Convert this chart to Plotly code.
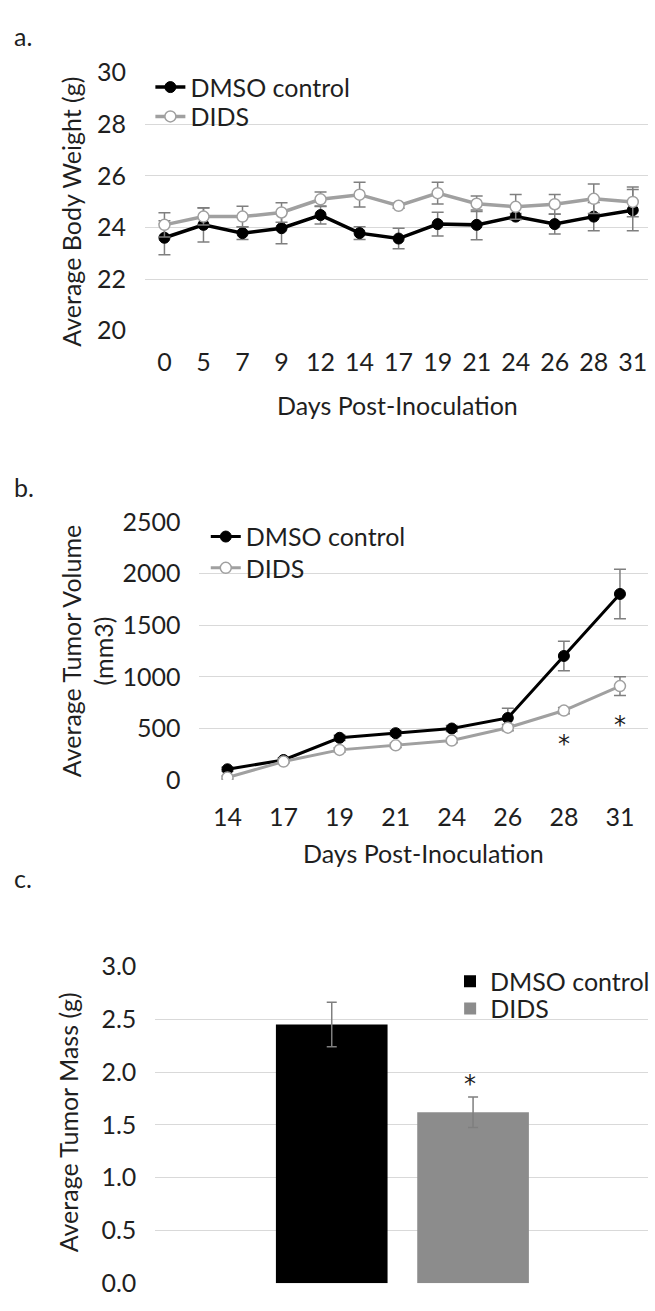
import plotly.graph_objects as go

W, H = 655, 1311

# ---------------- data ----------------
days_a = ["0", "5", "7", "9", "12", "14", "17", "19", "21", "24", "26", "28", "31"]
dmso_a = [23.6, 24.1, 23.78, 23.97, 24.48, 23.78, 23.57, 24.13, 24.1, 24.42, 24.13, 24.42, 24.67]
dmso_a_err = [0.66, 0.66, 0.25, 0.6, 0.35, 0.25, 0.4, 0.46, 0.58, 0.12, 0.38, 0.55, 0.8]
dids_a = [24.1, 24.42, 24.42, 24.58, 25.09, 25.27, 24.84, 25.33, 24.92, 24.8, 24.9, 25.11, 24.99]
dids_a_err = [0.47, 0.33, 0.4, 0.38, 0.28, 0.48, 0.1, 0.42, 0.3, 0.48, 0.38, 0.57, 0.58]

days_b = ["14", "17", "19", "21", "24", "26", "28", "31"]
dmso_b = [105, 195, 410, 455, 500, 602, 1203, 1804]
dmso_b_err = [20, 20, 25, 25, 30, 95, 142, 240]
dids_b = [25, 180, 293, 337, 383, 508, 674, 911]
dids_b_err = [15, 15, 20, 20, 20, 30, 30, 90]
sig_days_b = ["28", "31"]

groups_c = ["DMSO control", "DIDS"]
mass_c = [2.45, 1.62]
mass_c_err = [0.21, 0.145]

# ---------------- style ----------------
FONT = "Lato, 'Open Sans', sans-serif"
STAR_FONT = "'DejaVu Sans', sans-serif"
TXT = "#1f1f1f"
GRID = "#d9d9d9"
ERR = "#7f7f7f"
GRAY_LINE = "#a0a0a0"
BAR_GRAY = "#8c8c8c"
FS = 25


def px_x(p):
    return min(p / W, 1.0)


def px_y(p):
    return 1 - p / H


fig = go.Figure()

# Panel a
fig.add_trace(go.Scatter(
    x=days_a, y=dmso_a, name="DMSO control", mode="lines+markers",
    line=dict(color="black", width=3.5),
    marker=dict(color="black", size=11, line=dict(color="black", width=1)),
    error_y=dict(type="data", array=dmso_a_err, color=ERR, thickness=1.5, width=6),
    xaxis="x", yaxis="y", legend="legend"))
fig.add_trace(go.Scatter(
    x=days_a, y=dids_a, name="DIDS", mode="lines+markers",
    line=dict(color=GRAY_LINE, width=3.5),
    marker=dict(color="white", size=11, line=dict(color=GRAY_LINE, width=1.5)),
    error_y=dict(type="data", array=dids_a_err, color=ERR, thickness=1.5, width=6),
    xaxis="x", yaxis="y", legend="legend2"))

# Panel b
fig.add_trace(go.Scatter(
    x=days_b, y=dmso_b, name="DMSO control", mode="lines+markers",
    line=dict(color="black", width=3),
    marker=dict(color="black", size=11, line=dict(color="black", width=1)),
    error_y=dict(type="data", array=dmso_b_err, color=ERR, thickness=1.5, width=6),
    xaxis="x2", yaxis="y2", legend="legend3"))
fig.add_trace(go.Scatter(
    x=days_b, y=dids_b, name="DIDS", mode="lines+markers",
    line=dict(color=GRAY_LINE, width=3),
    marker=dict(color="white", size=11, line=dict(color=GRAY_LINE, width=1.5)),
    error_y=dict(type="data", array=dids_b_err, color=ERR, thickness=1.5, width=6),
    xaxis="x2", yaxis="y2", legend="legend4"))

# Panel c
bar_colors = ["black", BAR_GRAY]
bar_legends = ["legend5", "legend6"]
for g, v, e, c, lg in zip(groups_c, mass_c, mass_c_err, bar_colors, bar_legends):
    fig.add_trace(go.Bar(
        x=["mass"], y=[v], name=g, marker=dict(color=c, line=dict(width=0)),
        error_y=dict(type="data", array=[e], color=ERR, thickness=1.5, width=5),
        xaxis="x3", yaxis="y3", legend=lg))

# ---------------- axes ----------------
common_y = dict(showgrid=True, gridcolor=GRID, gridwidth=1.2, zeroline=False,
                showline=False, ticks="", tickfont=dict(family=FONT, size=FS, color=TXT),
                ticklabelstandoff=18)
common_x = dict(showgrid=False, zeroline=False, showline=False, ticks="",
                tickfont=dict(family=FONT, size=FS, color=TXT), type="category")

fig.update_layout(
    width=W, height=H, margin=dict(l=0, r=0, t=0, b=0),
    paper_bgcolor="white", plot_bgcolor="white",
    font=dict(family=FONT, size=FS, color=TXT),
    showlegend=True,
    barmode="group", bargap=0.428, bargroupgap=0.21,
    xaxis=dict(common_x, domain=[px_x(146.5), 1.0], range=[-0.5, 12.39], anchor="y",
               ticklabelstandoff=14),
    yaxis=dict(common_y, domain=[px_y(322), px_y(58)], range=[20, 30], dtick=2, anchor="x"),
    xaxis2=dict(common_x, domain=[px_x(201.6), 1.0], range=[-0.5, 7.5], anchor="y2",
                ticklabelstandoff=20),
    yaxis2=dict(common_y, domain=[px_y(782), px_y(518)], range=[0, 2500], dtick=500, anchor="x2"),
    xaxis3=dict(common_x, domain=[px_x(157), 1.0], range=[-0.5, 0.497], anchor="y3",
                showticklabels=False),
    yaxis3=dict(common_y, domain=[px_y(1297), px_y(972.7)], range=[0, 3], dtick=0.5,
                tickformat=".1f", anchor="x3"),
)

leg_common = dict(bgcolor="rgba(0,0,0,0)", font=dict(family=FONT, size=FS, color=TXT),
                  xanchor="left", yanchor="middle", borderwidth=0)
fig.update_layout(
    legend=dict(leg_common, x=px_x(152), y=px_y(73)),
    legend2=dict(leg_common, x=px_x(152), y=px_y(103)),
    legend3=dict(leg_common, x=px_x(208), y=px_y(533)),
    legend4=dict(leg_common, x=px_x(208), y=px_y(565)),
    legend5=dict(leg_common, x=px_x(455), y=px_y(988)),
    legend6=dict(leg_common, x=px_x(455), y=px_y(1016)),
)

ann = []
# panel letters
for lab, yy in [("a.", 20), ("b.", 482), ("c.", 882)]:
    ann.append(dict(text=lab, x=px_x(12), y=px_y(yy), xref="paper", yref="paper",
                    xanchor="left", yanchor="middle", showarrow=False,
                    font=dict(family=FONT, size=FS, color=TXT)))
# y titles
ann.append(dict(text="Average Body Weight (g)", x=px_x(72), y=px_y(200), xref="paper", yref="paper",
                textangle=-90, showarrow=False, xanchor="center", yanchor="middle",
                font=dict(family=FONT, size=FS, color=TXT)))
ann.append(dict(text="Average Tumor Volume<br>(mm3)", x=px_x(88), y=px_y(650), xref="paper", yref="paper",
                textangle=-90, showarrow=False, xanchor="center", yanchor="middle",
                font=dict(family=FONT, size=FS, color=TXT)))
ann.append(dict(text="Average Tumor Mass (g)", x=px_x(69), y=px_y(1132), xref="paper", yref="paper",
                textangle=-90, showarrow=False, xanchor="center", yanchor="middle",
                font=dict(family=FONT, size=FS, color=TXT)))
# x titles
ann.append(dict(text="Days Post-Inoculation", x=px_x(402), y=px_y(398), xref="paper", yref="paper",
                showarrow=False, xanchor="center", yanchor="middle",
                font=dict(family=FONT, size=FS, color=TXT)))
ann.append(dict(text="Days Post-Inoculation", x=px_x(428), y=px_y(857), xref="paper", yref="paper",
                showarrow=False, xanchor="center", yanchor="middle",
                font=dict(family=FONT, size=FS, color=TXT)))
# significance stars panel b (below DIDS error bar)
for d in sig_days_b:
    i = days_b.index(d)
    ann.append(dict(text="*", x=i, y=dids_b[i] - dids_b_err[i], xref="x2", yref="y2",
                    showarrow=False, xanchor="center", yanchor="middle", yshift=-30,
                    font=dict(family=STAR_FONT, size=24, color=TXT)))
# star panel c (above DIDS error bar)
ann.append(dict(text="*", x=0, y=mass_c[1] + mass_c_err[1], xref="x3", yref="y3",
                xshift=68, showarrow=False, xanchor="center", yanchor="middle", yshift=13,
                font=dict(family=STAR_FONT, size=24, color=TXT)))
fig.update_layout(annotations=ann)

fig.write_html("out.html")
